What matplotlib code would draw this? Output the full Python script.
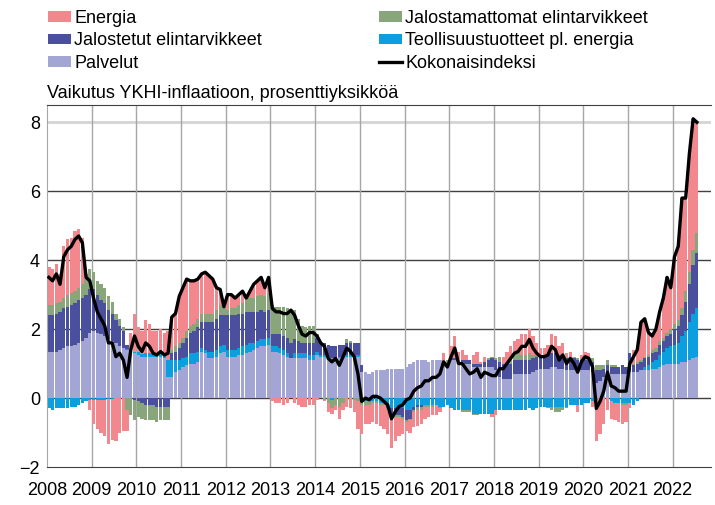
import numpy as np
import matplotlib
matplotlib.use("Agg")
import matplotlib.pyplot as plt
from matplotlib.patches import Patch
from matplotlib.lines import Line2D

plt.rcParams['font.family'] = ['Liberation Sans', 'DejaVu Sans']

# kuukausittain tammikuu 2008 - heinäkuu 2022
years = list(range(2008, 2023))

palvelut = [
    1.35, 1.35, 1.35, 1.4, 1.45, 1.5, 1.5, 1.55, 1.6, 1.65, 1.75, 1.9,
    1.95, 1.9, 1.85, 1.8, 1.7, 1.65, 1.6, 1.5, 1.45, 1.4, 1.35, 1.3,
    1.25, 1.2, 1.2, 1.2, 1.2, 1.2, 1.2, 1.15, 0.6, 0.6, 0.75, 0.8,
    0.9, 0.95, 1.0, 1.0, 1.05, 1.35, 1.3, 1.15, 1.15, 1.2, 1.3, 1.35,
    1.2, 1.2, 1.2, 1.25, 1.25, 1.3, 1.35, 1.4, 1.45, 1.5, 1.5, 1.55,
    1.35, 1.35, 1.3, 1.25, 1.2, 1.15, 1.15, 1.15, 1.15, 1.15, 1.1, 1.1,
    1.25, 1.2, 1.2, 1.2, 1.15, 1.15, 1.15, 1.15, 1.2, 1.2, 1.2, 1.2,
    0.75, 0.75, 0.7, 0.75, 0.8, 0.8, 0.8, 0.85, 0.85, 0.85, 0.85, 0.85,
    0.9, 1.0, 1.05, 1.1, 1.1, 1.1, 1.05, 1.1, 1.1, 1.1, 1.05, 1.05,
    1.1, 1.1, 1.0, 1.05, 1.0, 1.0, 0.9, 0.9, 0.9, 0.9, 0.9, 0.9,
    0.8, 0.6, 0.55, 0.55, 0.55, 0.7, 0.7, 0.7, 0.7, 0.7, 0.75, 0.8,
    0.85, 0.85, 0.85, 0.9, 0.9, 0.85, 0.85, 0.8, 0.8, 0.8, 0.8, 0.8,
    0.8, 0.8, 0.75, 0.45, 0.5, 0.6, 0.7, 0.7, 0.7, 0.7, 0.7, 0.7,
    0.75, 0.75, 0.75, 0.8, 0.8, 0.8, 0.85, 0.85, 0.9, 0.95, 1.0, 1.0,
    1.0, 1.0, 1.05, 1.05, 1.1, 1.15, 1.2,
]

teollisuus = [
    -0.3, -0.35, -0.3, -0.3, -0.3, -0.3, -0.25, -0.25, -0.2, -0.15, -0.1, -0.05,
    -0.05, -0.05, -0.05, -0.05, -0.03, -0.02, 0.0, 0.0, 0.0, 0.03, 0.05, 0.05,
    0.08, 0.08, 0.1, 0.1, 0.1, 0.1, 0.1, 0.1, 0.5, 0.5, 0.35, 0.3,
    0.25, 0.25, 0.3, 0.3, 0.3, 0.1, 0.1, 0.2, 0.2, 0.2, 0.2, 0.2,
    0.2, 0.2, 0.2, 0.2, 0.25, 0.25, 0.25, 0.2, 0.2, 0.2, 0.2, 0.2,
    0.15, 0.15, 0.15, 0.15, 0.1, 0.0, 0.15, 0.15, 0.15, 0.15, 0.15, 0.15,
    0.1, 0.05, 0.05, 0.0, -0.05, 0.0, 0.05, 0.05, 0.05, 0.05, 0.05, 0.05,
    -0.1, -0.1, -0.1, -0.1, -0.1, -0.15, -0.15, -0.2, -0.3, -0.3, -0.3, -0.3,
    -0.35, -0.35, -0.25, -0.2, -0.2, -0.2, -0.2, -0.2, -0.2, -0.25, -0.25, -0.2,
    -0.3, -0.35, -0.35, -0.35, -0.35, -0.35, -0.45, -0.45, -0.45, -0.45, -0.45, -0.45,
    -0.35, -0.35, -0.35, -0.35, -0.35, -0.35, -0.35, -0.35, -0.35, -0.3, -0.35, -0.3,
    -0.25, -0.25, -0.25, -0.25, -0.25, -0.25, -0.25, -0.25, -0.2, -0.2, -0.2, -0.2,
    -0.15, -0.15, -0.1, -0.05, 0.0, 0.0, 0.0, -0.1, -0.15, -0.15, -0.15, -0.15,
    -0.15, -0.2, -0.1, 0.0, 0.1, 0.15, 0.2, 0.25, 0.35, 0.4, 0.45, 0.5,
    0.55, 0.6, 0.75, 0.9, 1.1, 1.3, 1.4,
]

jalostetut = [
    1.05, 1.05, 1.1, 1.1, 1.15, 1.15, 1.2, 1.2, 1.25, 1.25, 1.25, 1.25,
    1.2, 1.1, 1.0, 0.95, 0.85, 0.8, 0.65, 0.6, 0.5, 0.1, 0.0, -0.05,
    -0.1, -0.15, -0.2, -0.2, -0.2, -0.25, -0.25, -0.25, -0.25, 0.2, 0.25, 0.35,
    0.45, 0.55, 0.6, 0.65, 0.7, 0.75, 0.8, 0.85, 0.85, 0.9, 0.9, 0.85,
    1.0, 1.0, 1.0, 1.0, 0.95, 0.95, 0.9, 0.9, 0.85, 0.85, 0.8, 0.8,
    0.35, 0.35, 0.4, 0.4, 0.45, 0.45, 0.4, 0.35, 0.3, 0.3, 0.35, 0.35,
    0.4, 0.35, 0.35, 0.35, 0.35, 0.35, 0.35, 0.35, 0.35, 0.35, 0.35, 0.35,
    0.2, 0.0, 0.0, 0.0, 0.0, 0.0, 0.0, -0.1, -0.15, -0.2, -0.2, -0.25,
    -0.3, -0.25, -0.1, -0.05, -0.05, 0.0, 0.0, 0.0, 0.0, 0.0, 0.0, 0.0,
    0.05, 0.05, 0.05, 0.05, 0.1, 0.1, 0.1, 0.1, 0.1, 0.15, 0.2, 0.25,
    0.3, 0.45, 0.45, 0.45, 0.45, 0.4, 0.4, 0.4, 0.4, 0.4, 0.4, 0.4,
    0.4, 0.4, 0.4, 0.4, 0.4, 0.4, 0.4, 0.35, 0.35, 0.35, 0.3, 0.3,
    0.3, 0.3, 0.3, 0.35, 0.3, 0.25, 0.25, 0.2, 0.2, 0.2, 0.25, 0.2,
    0.55, 0.2, 0.25, 0.25, 0.25, 0.25, 0.25, 0.25, 0.3, 0.3, 0.35, 0.35,
    0.45, 0.5, 0.6, 0.85, 1.1, 1.4, 1.6,
]

jalostamattomat = [
    0.3, 0.3, 0.3, 0.3, 0.3, 0.35, 0.35, 0.35, 0.35, 0.4, 0.45, 0.6,
    0.5, 0.4, 0.45, 0.45, 0.4, 0.35, 0.2, 0.2, 0.1, -0.35, -0.5, -0.6,
    -0.45, -0.45, -0.45, -0.45, -0.45, -0.45, -0.4, -0.4, -0.4, 0.1, 0.15, 0.15,
    0.15, 0.2, 0.2, 0.2, 0.25, 0.25, 0.25, 0.25, 0.25, 0.25, 0.3, 0.25,
    0.15, 0.2, 0.2, 0.25, 0.3, 0.35, 0.4, 0.4, 0.45, 0.45, 0.45, 0.5,
    0.85, 0.8, 0.8, 0.85, 0.85, 0.9, 0.85, 0.65, 0.5, 0.45, 0.5, 0.5,
    0.1, 0.0, -0.05, -0.15, -0.25, -0.2, -0.25, -0.15, 0.1, 0.05, -0.05, -0.1,
    -0.1, -0.1, -0.1, -0.05, -0.05, -0.05, -0.05, -0.05, -0.1, -0.05, -0.05, -0.05,
    -0.05, -0.05, -0.05, -0.1, -0.1, -0.05, -0.05, -0.05, 0.0, -0.05, 0.0, 0.05,
    0.05, 0.0, 0.0, -0.05, -0.05, -0.05, -0.05, -0.05, 0.0, 0.0, 0.05, 0.05,
    0.05, 0.15, 0.0, 0.05, 0.1, 0.15, 0.2, 0.15, 0.15, 0.2, 0.1, 0.05,
    0.0, 0.0, -0.05, -0.1, -0.15, -0.15, -0.1, -0.05, 0.0, 0.0, 0.05, 0.05,
    0.1, 0.1, 0.1, 0.15, 0.15, 0.1, 0.15, 0.05, 0.05, 0.0, -0.05, -0.05,
    0.0, 0.05, 0.05, 0.05, 0.05, 0.05, 0.1, 0.1, 0.1, 0.1, 0.1, 0.15,
    0.15, 0.15, 0.2, 0.3, 0.35, 0.45, 0.6,
]

energia = [
    1.1, 1.05, 1.15, 0.8, 1.5, 1.6, 1.6, 1.75, 1.7, 1.35, 0.15, -0.3,
    -0.7, -0.85, -0.95, -1.05, -1.3, -1.2, -1.25, -1.0, -0.95, -0.6, 0.5, 1.1,
    0.72, 0.67, 0.95, 0.85, 0.65, 0.65, 0.7, 0.65, 0.85, 0.95, 0.95, 1.35,
    1.45, 1.5, 1.3, 1.25, 1.15, 1.15, 1.2, 1.1, 1.0, 0.65, 0.45, 0.0,
    0.45, 0.4, 0.3, 0.3, 0.35, 0.05, 0.2, 0.4, 0.45, 0.5, 0.25, 0.45,
    -0.1, -0.15, -0.15, -0.2, -0.15, 0.05, -0.15, -0.2, -0.25, -0.25, -0.2, -0.2,
    -0.05, 0.0, -0.05, -0.25, -0.15, -0.15, -0.35, -0.2, -0.25, -0.3, -0.35, -0.8,
    -0.85, -0.55, -0.55, -0.55, -0.6, -0.6, -0.7, -0.7, -0.9, -0.7, -0.55, -0.45,
    -0.25, -0.35, -0.45, -0.45, -0.4, -0.35, -0.3, -0.25, -0.3, -0.1, 0.25, 0.0,
    0.3, 0.65, 0.3, 0.3, 0.15, 0.0, 0.25, 0.35, 0.05, 0.15, 0.0, -0.1,
    -0.15, 0.0, 0.2, 0.3, 0.4, 0.4, 0.4, 0.6, 0.6, 0.7, 0.55, 0.35,
    0.2, 0.2, 0.3, 0.55, 0.5, 0.25, 0.35, 0.15, 0.2, 0.05, -0.2, 0.1,
    0.15, 0.1, -0.15, -1.2, -1.05, -0.75, -0.35, -0.5, -0.5, -0.55, -0.55, -0.5,
    -0.15, 0.4, 0.45, 1.1, 1.1, 0.65, 0.4, 0.55, 0.85, 1.15, 1.6, 1.2,
    1.95, 2.15, 3.2, 2.7, 3.45, 3.8, 3.2,
]

kokonaisindeksi = [
    3.5, 3.4, 3.6, 3.3, 4.1, 4.3, 4.4, 4.6, 4.7, 4.5, 3.5, 3.4,
    2.9, 2.5, 2.3, 2.1, 1.6, 1.6, 1.2, 1.3, 1.1, 0.6, 1.4, 1.8,
    1.5, 1.35, 1.6, 1.5, 1.3, 1.25, 1.35, 1.25, 1.3, 2.35, 2.45, 2.95,
    3.2, 3.45, 3.4, 3.4, 3.45, 3.6, 3.65, 3.55, 3.45, 3.2, 3.15, 2.65,
    3.0, 3.0, 2.9, 3.0, 3.1, 2.9, 3.1, 3.3, 3.4, 3.5, 3.2, 3.5,
    2.6, 2.5, 2.5, 2.45, 2.45, 2.55, 2.4, 2.1, 1.85, 1.8, 1.9, 1.9,
    1.8, 1.6, 1.5, 1.15, 1.05, 1.15, 0.95, 1.2, 1.45, 1.35, 1.2, 0.7,
    -0.1, 0.0, -0.05, 0.05, 0.05, 0.0, -0.1, -0.2, -0.6, -0.4, -0.25, -0.2,
    -0.05, 0.0, 0.2, 0.3, 0.35, 0.5, 0.5, 0.6, 0.6, 0.7, 1.05, 0.9,
    1.2, 1.45, 1.0, 1.0, 0.85, 0.7, 0.75, 0.85, 0.6, 0.75, 0.7, 0.65,
    0.65, 0.85, 0.85, 1.0, 1.15, 1.3, 1.35, 1.5, 1.5, 1.7, 1.45, 1.3,
    1.2, 1.2, 1.25, 1.5, 1.4, 1.1, 1.25, 1.0, 1.15, 1.0, 0.75, 1.05,
    1.2, 1.15, 0.9, -0.3, -0.1, 0.2, 0.75, 0.35, 0.3, 0.2, 0.2, 0.2,
    1.0, 1.2, 1.4, 2.2, 2.3, 1.9, 1.8, 2.0, 2.5, 2.9, 3.5, 3.2,
    4.1, 4.4, 5.8, 5.8, 7.1, 8.1, 8.0,
]

labels = ["Palvelut", "Teollisuustuotteet pl. energia", "Jalostetut elintarvikkeet",
          "Jalostamattomat elintarvikkeet", "Energia"]
colors = ["#a3a6d4", "#0b9fe0", "#4a4f9e", "#88a57c", "#f2878e"]
series = [palvelut, teollisuus, jalostetut, jalostamattomat, energia]

fig = plt.figure(figsize=(7.15, 5.05), dpi=100)
ax = fig.add_axes([47 / 715, 38 / 505, 664 / 715, 362 / 505])

x = np.arange(len(kokonaisindeksi))
pos = np.zeros(len(x))
neg = np.zeros(len(x))
for vals, col in zip(series, colors):
    v = np.array(vals)
    b = np.where(v >= 0, pos, neg)
    ax.bar(x, v, 0.88, bottom=b, color=col, linewidth=0, zorder=2)
    pos += np.clip(v, 0, None)
    neg += np.clip(v, None, 0)

ax.plot(x, kokonaisindeksi, color="black", lw=2.4, zorder=4)

# ruudukko
for yv in [0, 2, 4, 6]:
    ax.axhline(yv, color="#404040", lw=1, zorder=1)
ax.axhline(8, color="#d4d4d4", lw=2, zorder=1)
for i in range(1, len(years)):
    ax.axvline(12 * i - 0.5, color="#a6a6a6", lw=1, zorder=1)

ax.set_xlim(-0.5, 177.8)
ax.set_ylim(-2, 8.5)
ax.set_yticks([-2, 0, 2, 4, 6, 8])
ax.set_xticks([12 * i - 0.5 for i in range(len(years))])
ax.set_xticklabels([str(y) for y in years])
ax.tick_params(axis="both", length=0, labelsize=13, colors="black")
ax.tick_params(axis="x", pad=11)
ax.tick_params(axis="y", pad=5)

ax.spines["right"].set_visible(False)
ax.spines["top"].set_color("#404040")
ax.spines["bottom"].set_color("#404040")
ax.spines["left"].set_color("#a6a6a6")

fig.text(47 / 715, 1 - 94 / 505, "Vaikutus YKHI-inflaatioon, prosenttiyksikköä",
         fontsize=13, ha="left", va="center")

h_e = Patch(facecolor=colors[4], label="Energia")
h_jt = Patch(facecolor=colors[2], label="Jalostetut elintarvikkeet")
h_p = Patch(facecolor=colors[0], label="Palvelut")
h_jm = Patch(facecolor=colors[3], label="Jalostamattomat elintarvikkeet")
h_t = Patch(facecolor=colors[1], label="Teollisuustuotteet pl. energia")
h_k = Line2D([], [], color="black", lw=2.4, label="Kokonaisindeksi")

leg_kw = dict(frameon=False, fontsize=13, handlelength=1.3, handleheight=0.55,
              handletextpad=0.15, labelspacing=0.3, borderpad=0, borderaxespad=0,
              loc="upper left")
leg1 = fig.legend(handles=[h_e, h_jt, h_p], bbox_to_anchor=(48 / 715, 1 - 10 / 505), **leg_kw)
leg2 = fig.legend(handles=[h_jm, h_t, h_k], bbox_to_anchor=(379 / 715, 1 - 10 / 505), **leg_kw)

fig.savefig("out.png", dpi=100)
